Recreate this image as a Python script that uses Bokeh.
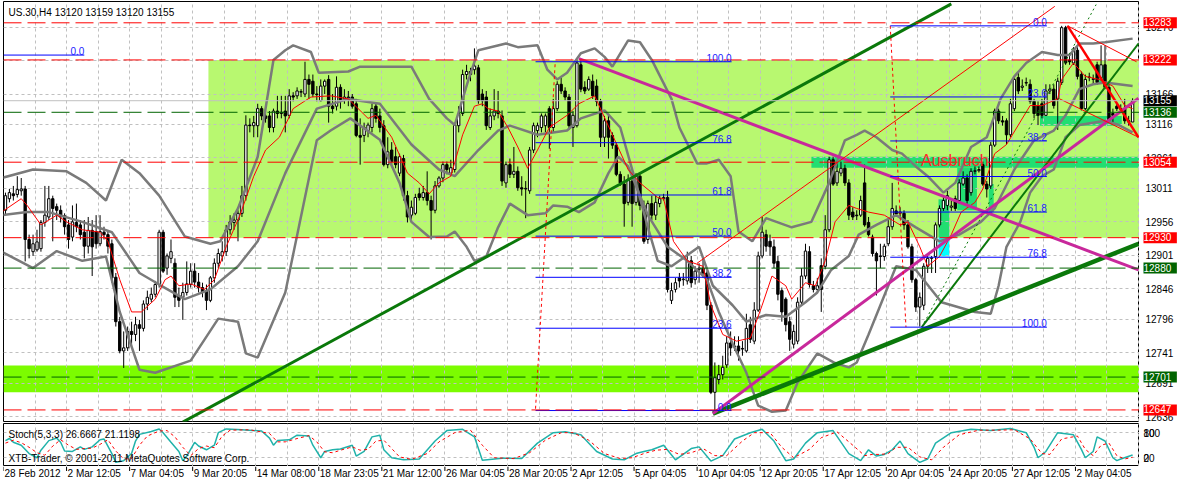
import numpy as np
from bokeh.plotting import figure
from bokeh.models import Range1d, FixedTicker, Span, Label
from bokeh.layouts import column, row
from bokeh.embed import file_html
from bokeh.resources import INLINE

FONT = "Liberation Sans"

# ---------------- US.30 H4 candles (bar 0 = 28 Feb 2012) ----------------
opens = [
    12975, 12994, 13002, 13001, 13007, 13010, 12927, 12907, 12910, 12912,
    12955, 12964, 12994, 12981, 12975, 12966, 12951, 12931, 12955, 12951,
    12939, 12916, 12942, 12940, 12920, 12939, 12935, 12920, 12865, 12792,
    12744, 12749, 12776, 12771, 12787, 12781, 12821, 12829, 12837, 12853,
    12939, 12880, 12896, 12888, 12835, 12832, 12840, 12853, 12875, 12857,
    12848, 12843, 12827, 12864, 12888, 12900, 12907, 12943, 12955, 12959,
    12970, 12999, 13115, 13114, 13114, 13142, 13130, 13130, 13111, 13138,
    13134, 13138, 13131, 13163, 13163, 13169, 13166, 13190, 13187, 13166,
    13155, 13179, 13190, 13146, 13146, 13177, 13158, 13161, 13161, 13150,
    13098, 13098, 13106, 13111, 13146, 13130, 13114, 13050, 13074, 13063,
    13036, 13060, 12999, 12967, 12970, 13002, 12996, 13004, 12991, 12975,
    13015, 13028, 13050, 13036, 13042, 13114, 13134, 13198, 13203, 13206,
    13209, 13166, 13161, 13111, 13130, 13138, 13130, 13020, 13050, 13034,
    13039, 13012, 13010, 13007, 13074, 13106, 13111, 13114, 13142, 13111,
    13142, 13182, 13171, 13161, 13111, 13114, 13214, 13177, 13174, 13187,
    13179, 13154, 13095, 13122, 13098, 13082, 13034, 13018, 12988, 13023,
    12988, 13031, 12983, 12927, 12986, 12967, 12986, 12994, 12996, 12827,
    12845, 12864, 12861, 12859, 12892, 12861, 12878, 12880, 12872, 12819,
    12676, 12697, 12705, 12721, 12757, 12752, 12752, 12748, 12744, 12787,
    12760, 12811, 12900, 12935, 12924, 12915, 12891, 12843, 12829, 12792,
    12755, 12760, 12824, 12867, 12907, 12851, 12845, 12884, 12883, 12943,
    13058, 13020, 13036, 13044, 13020, 12972, 12967, 12967, 13020, 12955,
    12931, 12904, 12900, 12899, 12920, 12948, 12974, 12970, 12970, 12951,
    12915, 12861, 12816, 12819, 12883, 12896, 12899, 12951, 12978, 12983,
    12980, 12994, 12991, 13018, 13028, 13004, 13039, 13040, 13050, 13018,
    13015, 13082, 13138, 13122, 13122, 13099, 13142, 13193, 13177, 13184,
    13182, 13154, 13147, 13150, 13131, 13171, 13174, 13158, 13185, 13275,
    13222, 13217, 13238, 13198, 13142, 13193, 13190, 13214, 13193, 13214,
    13177, 13134, 13146, 13142, 13142, 13122, 13120,
]
highs = [
    13004, 13010, 13015, 13031, 13028, 13015, 12935, 12935, 12943, 12959,
    13015, 13015, 12999, 12986, 12983, 12970, 12959, 12983, 12986, 12959,
    12959, 12964, 12959, 12967, 12967, 12948, 12940, 12927, 12872, 12800,
    12776, 12784, 12792, 12800, 12795, 12827, 12843, 12848, 12859, 12943,
    12943, 12904, 12927, 12896, 12848, 12856, 12891, 12888, 12888, 12872,
    12856, 12853, 12867, 12896, 12912, 12924, 12951, 12967, 12970, 12975,
    13015, 13131, 13126, 13130, 13150, 13146, 13139, 13138, 13142, 13163,
    13163, 13163, 13174, 13169, 13177, 13174, 13219, 13198, 13198, 13179,
    13190, 13190, 13197, 13166, 13195, 13182, 13174, 13171, 13166, 13158,
    13126, 13119, 13119, 13150, 13150, 13142, 13123, 13095, 13087, 13079,
    13068, 13066, 13007, 12991, 13002, 13012, 13015, 13039, 12999, 13023,
    13031, 13055, 13055, 13058, 13119, 13146, 13206, 13214, 13209, 13241,
    13214, 13174, 13171, 13142, 13174, 13171, 13139, 13055, 13060, 13079,
    13047, 13031, 13023, 13079, 13119, 13119, 13134, 13134, 13146, 13158,
    13187, 13193, 13177, 13166, 13138, 13222, 13222, 13187, 13195, 13198,
    13190, 13158, 13130, 13130, 13103, 13087, 13039, 13031, 13034, 13026,
    13036, 13034, 12991, 12991, 12999, 12999, 12999, 13002, 13007, 12856,
    12864, 12872, 12872, 12907, 12900, 12883, 12888, 12896, 12875, 12824,
    12725, 12721, 12736, 12768, 12776, 12768, 12768, 12760, 12805, 12800,
    12824, 12907, 12964, 12943, 12935, 12927, 12900, 12848, 12832, 12800,
    12787, 12832, 12880, 12920, 12916, 12859, 12864, 12896, 12967, 13063,
    13063, 13055, 13055, 13050, 13026, 12980, 12975, 12999, 13050, 12964,
    12935, 12907, 12920, 12920, 12959, 13020, 12983, 12980, 12975, 12959,
    12920, 12864, 12840, 12888, 12900, 12900, 12955, 12983, 12999, 13007,
    12991, 12999, 13026, 13039, 13034, 13044, 13047, 13047, 13055, 13023,
    13087, 13142, 13142, 13130, 13126, 13158, 13195, 13203, 13190, 13193,
    13190, 13158, 13154, 13158, 13182, 13182, 13182, 13193, 13278, 13278,
    13230, 13243, 13243, 13203, 13198, 13201, 13198, 13219, 13246, 13246,
    13182, 13142, 13150, 13149, 13158, 13130, 13159,
]
lows = [
    12967, 12988, 12991, 12996, 12999, 12891, 12896, 12900, 12907, 12907,
    12948, 12959, 12924, 12959, 12955, 12935, 12912, 12924, 12939, 12927,
    12896, 12904, 12867, 12912, 12916, 12927, 12904, 12856, 12784, 12740,
    12716, 12744, 12752, 12760, 12744, 12776, 12811, 12824, 12832, 12848,
    12872, 12869, 12888, 12816, 12816, 12795, 12835, 12848, 12848, 12840,
    12832, 12811, 12824, 12856, 12880, 12891, 12900, 12935, 12943, 12924,
    12964, 12991, 13103, 13095, 13095, 13123, 13119, 13103, 13103, 13126,
    13126, 13103, 13126, 13154, 13158, 13161, 13161, 13158, 13161, 13154,
    13154, 13166, 13119, 13134, 13139, 13142, 13150, 13146, 13142, 13095,
    13050, 13087, 13095, 13103, 13119, 13103, 13047, 13044, 13050, 13044,
    13031, 12991, 12955, 12959, 12967, 12991, 12991, 12983, 12927, 12970,
    13012, 13021, 13034, 13031, 13037, 13103, 13130, 13190, 13187, 13198,
    13150, 13146, 13107, 13107, 13123, 13126, 13015, 13012, 13028, 13028,
    13007, 12999, 12962, 13002, 13069, 13095, 13103, 13103, 13076, 13103,
    13138, 13166, 13155, 13107, 13079, 13111, 13169, 13166, 13171, 13158,
    13146, 13079, 13079, 13060, 13076, 13031, 13015, 12948, 12983, 12948,
    12983, 12975, 12920, 12920, 12959, 12959, 12980, 12991, 12840, 12821,
    12840, 12848, 12851, 12853, 12848, 12853, 12856, 12864, 12811, 12673,
    12646, 12689, 12697, 12716, 12736, 12744, 12728, 12736, 12741, 12757,
    12755, 12808, 12896, 12907, 12900, 12880, 12827, 12792, 12776, 12744,
    12748, 12755, 12821, 12862, 12848, 12840, 12840, 12808, 12878, 12939,
    13015, 13015, 13031, 13015, 12959, 12959, 12959, 12964, 12948, 12932,
    12899, 12835, 12880, 12892, 12916, 12943, 12964, 12962, 12943, 12912,
    12856, 12808, 12784, 12811, 12872, 12872, 12872, 12947, 12974, 12975,
    12974, 12974, 12986, 13015, 12986, 12999, 13034, 13037, 13015, 12996,
    13010, 13079, 13117, 13114, 13083, 13095, 13138, 13166, 13171, 13179,
    13150, 13126, 13115, 13126, 13130, 13166, 13142, 13107, 13181, 13214,
    13214, 13214, 13190, 13139, 13139, 13187, 13182, 13181, 13190, 13174,
    13119, 13119, 13138, 13136, 13117, 13114, 13120,
]
closes = [
    12999, 13004, 12999, 13009, 13010, 12927, 12912, 12920, 12923, 12955,
    12967, 12994, 12978, 12975, 12964, 12948, 12927, 12956, 12948, 12935,
    12916, 12942, 12915, 12920, 12940, 12935, 12916, 12864, 12792, 12744,
    12749, 12776, 12771, 12787, 12781, 12821, 12832, 12837, 12853, 12939,
    12875, 12900, 12907, 12832, 12827, 12840, 12854, 12875, 12857, 12848,
    12840, 12827, 12864, 12888, 12904, 12907, 12943, 12956, 12959, 12970,
    12999, 13115, 13114, 13119, 13142, 13130, 13126, 13111, 13138, 13134,
    13136, 13130, 13163, 13161, 13171, 13170, 13190, 13182, 13166, 13165,
    13179, 13187, 13146, 13142, 13177, 13154, 13161, 13158, 13146, 13098,
    13095, 13111, 13115, 13142, 13126, 13111, 13050, 13071, 13055, 13050,
    13063, 12999, 12964, 12980, 12996, 12996, 13004, 12991, 12975, 13015,
    13028, 13050, 13042, 13045, 13115, 13134, 13198, 13203, 13198, 13212,
    13155, 13155, 13114, 13130, 13138, 13134, 13023, 13050, 13034, 13039,
    13012, 13010, 13011, 13074, 13114, 13114, 13130, 13130, 13111, 13142,
    13182, 13171, 13161, 13114, 13131, 13217, 13174, 13171, 13190, 13163,
    13154, 13095, 13122, 13095, 13082, 13034, 13020, 12986, 13026, 12986,
    13031, 12983, 12924, 12986, 12967, 12988, 12994, 12996, 12845, 12843,
    12856, 12859, 12862, 12892, 12856, 12875, 12880, 12872, 12819, 12676,
    12700, 12705, 12717, 12757, 12749, 12751, 12744, 12747, 12781, 12763,
    12811, 12900, 12939, 12916, 12915, 12888, 12837, 12808, 12787, 12763,
    12776, 12824, 12867, 12908, 12853, 12845, 12851, 12845, 12943, 13058,
    13018, 13039, 13044, 13020, 12967, 12964, 12966, 12991, 12951, 12935,
    12904, 12892, 12899, 12916, 12948, 12978, 12969, 12972, 12951, 12915,
    12861, 12816, 12832, 12883, 12896, 12897, 12951, 12978, 12991, 12999,
    12982, 12978, 13020, 13028, 12991, 13039, 13040, 13042, 13018, 13010,
    13082, 13138, 13122, 13120, 13099, 13150, 13190, 13171, 13179, 13185,
    13154, 13134, 13131, 13131, 13171, 13174, 13147, 13187, 13275, 13217,
    13219, 13238, 13195, 13142, 13190, 13194, 13191, 13185, 13214, 13177,
    13122, 13131, 13142, 13141, 13122, 13120, 13155,
]

# ---------------- indicators (vertices: bar, price) ----------------
bb_up_bar = [-1, 7, 15.5, 20.5, 25.5, 29.5, 34, 39, 45.5, 52, 54.5, 59, 64, 68, 71, 73, 77.5, 79.5, 87, 90, 95, 103,
             107.5, 112, 114, 117.5, 120, 127, 130, 135, 137.5, 140, 142.5, 146, 149.5, 152, 154, 158, 161, 164, 169,
             171, 175.5, 178, 181, 184, 186, 189.5, 193, 199.5, 204.5, 209, 213, 216, 218, 221, 225, 227.5, 231, 234,
             238, 241, 245, 249, 252.5, 256, 259, 263, 267, 270, 272.5, 276, 279, 286]
bb_up = [13028, 13042, 13039, 13020, 12991, 13058, 13036, 12999, 12932, 12920, 12924, 12978, 13063, 13222, 13238,
         13246, 13235, 13201, 13203, 13211, 13211, 13211, 13158, 13126, 13115, 13190, 13238, 13249, 13243, 13246,
         13206, 13190, 13201, 13233, 13241, 13227, 13211, 13254, 13251, 13222, 13158, 13111, 13052, 13052, 13058,
         13031, 12940, 12924, 12962, 12947, 12956, 13020, 13090, 13099, 13106, 13095, 13074, 13068, 13047, 13031,
         13004, 13020, 13079, 13095, 13158, 13195, 13217, 13235, 13230, 13230, 13249, 13249, 13251, 13257]
bb_mid_bar = [-1, 5.5, 11, 19.5, 27, 34, 39, 45.5, 52, 59, 64, 71, 79, 87, 95, 103, 110, 114, 120, 125, 128, 135,
              142.5, 146, 152, 156, 159.5, 163, 165.5, 169, 176, 179.5, 184.5, 188, 193, 198, 203, 206, 209.5, 214,
              216.5, 221, 226, 231, 237, 242, 247.5, 251, 256, 261, 266, 269, 272.5, 276, 279, 286]
bb_mid = [12967, 12972, 12972, 12956, 12939, 12872, 12853, 12829, 12845, 12883, 12924, 13036, 13142, 13158, 13150,
          13083, 13042, 13031, 13074, 13106, 13114, 13099, 13106, 13126, 13139, 13111, 13031, 12947, 12892, 12883,
          12915, 12851, 12819, 12792, 12803, 12800, 12824, 12840, 12877, 12900, 12935, 12951, 12967, 12947, 12924,
          12935, 12956, 12978, 13042, 13090, 13106, 13131, 13174, 13182, 13185, 13179]
bb_lo_bar = [-1, 7, 13, 19.5, 25.5, 29, 34, 38, 47, 54, 59, 61, 64, 71, 79, 82.5, 87.5, 95, 100, 103, 107.5, 112,
             114, 117, 119, 122, 125, 128, 132.5, 137, 139, 142.5, 145.5, 149.5, 153, 155.5, 158, 163, 168, 173, 178,
             181, 184.5, 188, 191, 194.5, 198, 201, 206, 210.5, 214, 216, 219, 222, 226, 231, 237.5, 246, 250, 252,
             254, 257.5, 260, 263, 266, 267.5, 269, 272.5, 279, 282.5, 286]
bb_lo = [12907, 12880, 12908, 12892, 12899, 12808, 12713, 12708, 12728, 12797, 12792, 12740, 12733, 12840, 13090,
         13106, 13126, 13091, 13020, 12956, 12931, 12932, 12940, 12915, 12892, 12899, 12947, 12986, 12967, 12970,
         12983, 12981, 12972, 12988, 13036, 13063, 13047, 12967, 12915, 12892, 12861, 12808, 12756, 12708, 12654,
         12644, 12646, 12692, 12740, 12724, 12717, 12725, 12771, 12819, 12883, 12877, 12824, 12808, 12805, 12851,
         12915, 12956, 13004, 13031, 13042, 13068, 13095, 13115, 13122, 13115, 13103]
ma_bar = [-1, 4, 5.5, 9, 13, 15.5, 19.5, 24, 26, 29, 32, 34.5, 38, 40.5, 42, 44, 47, 50.5, 53, 56, 59.5, 63, 66,
          69.5, 71, 73, 77.5, 82.5, 87, 92, 94, 98, 102, 105, 107.5, 110, 113, 116, 119, 121, 122.5, 125, 127.5,
          130, 132.5, 135, 138, 142.5, 145.5, 149.5, 154, 158, 161, 165.5, 167, 169.5, 173, 177, 179, 182, 185.5,
          189, 192, 194.5, 198, 199.5, 203, 205.5, 208, 210.5, 214, 216, 219, 223, 227, 229, 232, 234, 237, 240,
          242.5, 246, 248, 251, 254, 257, 260, 263, 267, 268, 271, 274, 277.5, 281, 284, 286]
ma = [12972, 12994, 12983, 12951, 12967, 12956, 12943, 12939, 12924, 12861, 12808, 12808, 12829, 12861, 12867,
      12851, 12854, 12845, 12861, 12915, 12967, 13031, 13074, 13095, 13115, 13142, 13161, 13163, 13158, 13126,
      13131, 13095, 13036, 13020, 13002, 13020, 13031, 13099, 13146, 13150, 13142, 13138, 13111, 13079, 13044,
      13074, 13111, 13131, 13150, 13163, 13099, 13042, 13020, 12996, 12994, 12924, 12892, 12883, 12819, 12771,
      12760, 12765, 12819, 12867, 12851, 12829, 12856, 12851, 12892, 12956, 12983, 12978, 12972, 12967, 12951,
      12956, 12915, 12883, 12899, 12935, 12972, 12988, 13010, 13068, 13083, 13115, 13147, 13147, 13158, 13190,
      13217, 13195, 13190, 13179, 13147, 13142]

# Stochastic (5,3,3): %K and %D vertices (bar, value)
stoch_k_bar = [0, 1, 2, 4, 6, 8, 9, 11, 13, 14, 15, 17, 19, 20, 22, 24, 25, 27, 28, 30, 32, 33, 34, 37, 39, 40, 42,
               44, 45, 46, 48, 49, 51, 53, 54, 56, 60, 65, 67, 68, 69, 72, 74, 77, 78, 80, 81, 83, 85, 88, 89, 91,
               93, 95, 96, 98, 101, 105, 109, 112, 116, 119, 121, 126, 131, 135, 139, 142, 146, 150, 154, 157, 160,
               162, 164, 167, 170, 174, 176, 179, 182, 185, 189, 192, 195, 198, 200, 203, 206, 210, 214, 217, 219,
               221, 223, 225, 227, 229, 232, 234, 236, 240, 245, 250, 255, 259, 261, 262, 264, 267, 271, 273, 274,
               276, 277, 279, 281, 282, 283, 286]
stoch_k = [61, 66, 57, 50, 30, 20, 38, 61, 67, 57, 36, 35, 46, 40, 46, 63, 65, 30, 9, 13, 30, 60, 76, 83, 89, 80,
           57, 35, 13, 24, 57, 48, 39, 50, 80, 89, 87, 84, 67, 50, 61, 63, 74, 72, 50, 20, 35, 39, 41, 50, 24, 35,
           70, 74, 39, 20, 15, 17, 60, 85, 88, 70, 14, 19, 18, 55, 80, 82, 75, 35, 17, 15, 30, 35, 39, 50, 15, 42,
           46, 12, 25, 65, 80, 88, 60, 13, 17, 55, 80, 85, 30, 13, 39, 24, 28, 39, 60, 30, 9, 17, 55, 80, 88, 85,
           90, 80, 45, 20, 35, 80, 75, 40, 20, 35, 70, 60, 20, 13, 17, 26.67]
stoch_d_bar = [0, 2, 4, 6, 8, 10, 12, 14, 16, 18, 20, 22, 24, 26, 28, 30, 32, 34, 36, 39, 41, 43, 45, 47, 49, 51,
               53, 55, 57, 62, 67, 69, 71, 74, 77, 79, 81, 83, 85, 88, 90, 92, 94, 96, 98, 100, 103, 107, 110, 114,
               118, 121, 124, 129, 133, 137, 141, 144, 148, 152, 156, 159, 162, 165, 168, 171, 174, 177, 180, 183,
               187, 190, 194, 197, 200, 204, 207, 211, 215, 218, 220, 222, 224, 226, 229, 232, 235, 238, 242, 247,
               252, 256, 260, 263, 265, 268, 272, 274, 276, 278, 280, 282, 284, 286]
stoch_d = [55, 62, 56, 45, 32, 26, 48, 63, 50, 40, 42, 43, 52, 63, 36, 17, 18, 50, 72, 84, 85, 70, 45, 25, 42, 48,
           44, 72, 86, 87, 78, 58, 58, 66, 73, 58, 34, 32, 38, 46, 38, 40, 60, 62, 42, 22, 16, 30, 58, 80, 86, 50,
           20, 18, 32, 62, 80, 80, 62, 30, 18, 20, 30, 38, 40, 28, 32, 42, 25, 25, 60, 80, 80, 45, 20, 40, 68, 82,
           50, 25, 28, 28, 30, 45, 45, 22, 15, 45, 75, 86, 86, 87, 65, 30, 28, 65, 72, 40, 25, 50, 55, 25, 17, 21.12]

# ---------------- axis texts ----------------
price_ticks = [12636, 12691, 12741, 12796, 12846, 12901, 12956, 13011, 13061, 13116, 13166, 13221, 13276]
stoch_ticks = [("100", 80), ("80", 80), ("20", 20), ("0", 20)]
date_labels = ["28 Feb 2012", "2 Mar 12:05", "7 Mar 04:05", "9 Mar 20:05", "14 Mar 08:00", "18 Mar 23:05",
               "21 Mar 12:00", "26 Mar 04:05", "28 Mar 20:05", "2 Apr 12:05", "5 Apr 04:05", "10 Apr 04:05",
               "12 Apr 20:05", "17 Apr 12:05", "20 Apr 04:05", "24 Apr 20:05", "27 Apr 12:05", "2 May 04:05"]

# ---------------- chart objects ----------------
red_levels = [13283, 13222, 13054, 12930, 12647]
green_levels = [13136, 12880, 12701]
bid_price = 13155
level_values = [13283, 13222, 13155, 13136, 13054, 12930, 12880, 12701, 12647]
level_colors = ["#ff0000", "#ff0000", "#000000", "#006400", "#ff0000", "#ff0000", "#006400", "#006400", "#ff0000"]

fib_pcts = [0.0, 23.6, 38.2, 50.0, 61.8, 76.8, 100.0]
fib2_bars = [134.5, 184.25]; fib2_lo, fib2_hi = 12646, 13219
fib3_bars = [224.5, 264.25]; fib3_top, fib3_bot = 13278, 12783
fib1_bars = [-0.5, 20.0]; fib1_price = 13230

# trend lines: start bar, start price, end bar, end price
magenta_x0 = [145.5, 179.5]; magenta_y0 = [13224, 12641]
magenta_x1 = [287.5, 287.5]; magenta_y1 = [12877, 13159]
green_x0 = [45, 179.5, 232.5]; green_y0 = [12627, 12641, 12783]
green_x1 = [240, 287.5, 287.5]; green_y1 = [13314, 12920, 13249]
green_w = [3, 4.5, 2]
gdot_x = [232.5, 276.75]; gdot_y = [12783, 13313]
red_thin_x0 = [175.5, 269.5, 267.5]; red_thin_y0 = [12888, 13278, 13158]
red_thin_x1 = [266.25, 287.0, 287.5]; red_thin_y1 = [13310, 13219, 13095]
red_thick_x = [269.5, 287.5]; red_thick_y = [13278, 13095]
fibline_x0 = [134.5, 224.5]; fibline_y0 = [12649, 13278]
fibline_x1 = [139.5, 228.5]; fibline_y1 = [13219, 12783]

zone_light = (51.5, 288.0, 13222, 12930)
zone_bright = (-0.5, 288.0, 12720, 12676)
zones_mid_l = [204.5, 262.5, 236.75, 241.5, 249.5, 277.5]
zones_mid_r = [288.0, 283.25, 239.5, 246.5, 250.75, 279.25]
zones_mid_t = [13063, 13130, 12993, 13045, 13018, 13212]
zones_mid_b = [13045, 13114, 12931, 12975, 12972, 13185]
zone_cyan = (236.75, 239.5, 12931, 12899)

# ---------------- layout constants ----------------
X0, X1 = -0.5, 287.75
LEFT_W = 1139
RIGHT_W = 39
MAIN_H = 422
STOCH_H = 44
DATE_H = 16


def plain(fig):
    fig.background_fill_color = "white"
    fig.border_fill_color = "white"
    return fig


# ---------------- main price panel ----------------
p = plain(figure(width=LEFT_W, height=MAIN_H, x_range=Range1d(X0, X1), y_range=Range1d(12628, 13318),
                 x_axis_location=None, y_axis_location=None, output_backend="svg", toolbar_location=None,
                 min_border_left=3, min_border_right=0, min_border_top=1, min_border_bottom=1))
p.outline_line_color = "black"

grid_x = [8 * k - 0.5 for k in range(1, 37)]
p.xgrid.ticker = FixedTicker(ticks=grid_x)
p.ygrid.ticker = FixedTicker(ticks=price_ticks)
for g in (p.xgrid[0], p.ygrid[0]):
    g.grid_line_color = "#c0c0c0"
    g.grid_line_dash = "3 3"

# zones (behind the grid)
p.quad(left=[zone_light[0]], right=[zone_light[1]], top=[zone_light[2]], bottom=[zone_light[3]],
       fill_color="#b8f870", line_color=None, level="image")
p.quad(left=[zone_bright[0]], right=[zone_bright[1]], top=[zone_bright[2]], bottom=[zone_bright[3]],
       fill_color="#7cfc00", line_color=None, level="image")
p.quad(left=zones_mid_l, right=zones_mid_r, top=zones_mid_t, bottom=zones_mid_b,
       fill_color="#22de72", line_color=None, level="image")
p.quad(left=[zone_cyan[0]], right=[zone_cyan[1]], top=[zone_cyan[2]], bottom=[zone_cyan[3]],
       fill_color="#00ffff", line_color=None, level="image")

# candles
o = np.array(opens, float); h = np.array(highs, float); l = np.array(lows, float); c = np.array(closes, float)
idx = np.arange(len(c))
p.segment(idx, h, idx, l, line_color="black", line_width=1)
up = c >= o
p.vbar(x=idx[up], top=c[up], bottom=o[up], width=0.6, fill_color="white", line_color="black", line_width=1)
p.vbar(x=idx[~up], top=o[~up], bottom=c[~up], width=0.6, fill_color="black", line_color="black", line_width=1)

# Bollinger bands and moving average
for bx, by in ((bb_up_bar, bb_up), (bb_mid_bar, bb_mid), (bb_lo_bar, bb_lo)):
    p.line(bx, by, line_color="#7a7a7a", line_width=2.5)
p.line(ma_bar, ma, line_color="#ff0000", line_width=1)

# horizontal levels
for v in red_levels:
    p.add_layout(Span(location=v, dimension="width", line_color="#ff0000", line_dash="18 6", line_width=1))
for v in green_levels:
    p.add_layout(Span(location=v, dimension="width", line_color="#006400", line_dash="18 6", line_width=1))
p.add_layout(Span(location=bid_price, dimension="width", line_color="#c0c0c0", line_width=1))

# trend lines
p.segment(green_x0, green_y0, green_x1, green_y1, line_color="#0a780a", line_width=green_w)
p.line(gdot_x, gdot_y, line_color="#0a780a", line_width=1, line_dash="2 3")
p.segment(magenta_x0, magenta_y0, magenta_x1, magenta_y1, line_color="#c8289b", line_width=3)
p.segment(red_thin_x0, red_thin_y0, red_thin_x1, red_thin_y1, line_color="#ff0000", line_width=1)
p.line(red_thick_x, red_thick_y, line_color="#ff0000", line_width=2.5)
p.segment(fibline_x0, fibline_y0, fibline_x1, fibline_y1, line_color="#ff0000", line_width=1, line_dash="3 3")


# Fibonacci levels
def fib_label(xr, y, txt):
    p.add_layout(Label(x=xr, y=y, text=txt, text_align="right", text_baseline="bottom",
                       text_color="#1a1aff", text_font=FONT, text_font_size="10px"))


p.line(fib1_bars, [fib1_price, fib1_price], line_color="#0000ff", line_width=1)
fib_label(fib1_bars[1], fib1_price, "0.0")
for pct in fib_pcts:
    y2 = fib2_lo + pct / 100.0 * (fib2_hi - fib2_lo)
    p.line(fib2_bars, [y2, y2], line_color="#0000ff", line_width=1)
    fib_label(fib2_bars[1], y2, "%.1f" % pct)
    y3 = fib3_top - pct / 100.0 * (fib3_top - fib3_bot)
    p.line(fib3_bars, [y3, y3], line_color="#0000ff", line_width=1)
    fib_label(fib3_bars[1], y3, "%.1f" % pct)

# texts
p.add_layout(Label(x=X0, y=13300, x_offset=5, text="US.30,H4  13120 13159 13120 13155", text_baseline="middle",
                   text_font=FONT, text_font_size="10px", text_color="black"))
p.add_layout(Label(x=232.3, y=13056, text="Ausbruch", text_baseline="alphabetic", text_font=FONT,
                   text_font_size="16px", text_color="#ff2a2a"))

# ---------------- right price scale ----------------
rp = plain(figure(width=RIGHT_W, height=MAIN_H, x_range=Range1d(0, 1), y_range=p.y_range,
                  x_axis_location=None, y_axis_location=None, output_backend="svg", toolbar_location=None,
                  min_border_left=0, min_border_right=0, min_border_top=1, min_border_bottom=1))
rp.outline_line_color = None
rp.grid.visible = False
for v in price_ticks:
    rp.add_layout(Label(x=0, y=v, x_offset=6, text="%d" % v, text_baseline="middle", text_font=FONT,
                        text_font_size="10px", text_color="black"))
for v, col in zip(level_values, level_colors):
    rp.add_layout(Label(x=0, y=v, x_offset=4, text=" %d " % v, text_baseline="middle", text_font=FONT,
                        text_font_size="10px", text_color="white", background_fill_color=col))

# ---------------- stochastic panel ----------------
s = plain(figure(width=LEFT_W, height=STOCH_H, x_range=p.x_range, y_range=Range1d(-1, 102),
                 x_axis_location=None, y_axis_location=None, output_backend="svg", toolbar_location=None,
                 min_border_left=3, min_border_right=0, min_border_top=1, min_border_bottom=0))
s.outline_line_color = "black"
s.xgrid.ticker = FixedTicker(ticks=grid_x)
s.ygrid.ticker = FixedTicker(ticks=[20, 80])
for g in (s.xgrid[0], s.ygrid[0]):
    g.grid_line_color = "#c0c0c0"
    g.grid_line_dash = "3 3"
s.line(stoch_k_bar, stoch_k, line_color="#20b2aa", line_width=1.5)
s.line(stoch_d_bar, stoch_d, line_color="#ff0000", line_width=1, line_dash="3 3")
s.add_layout(Label(x=X0, y=76, x_offset=5, text="Stoch(5,3,3) 26.6667 21.1198", text_baseline="middle",
                   text_font=FONT, text_font_size="10px", text_color="black"))
s.add_layout(Label(x=X0, y=17, x_offset=5, text="XTB-Trader, \u00a9 2001-2011 MetaQuotes Software Corp.",
                   text_baseline="middle", text_font=FONT, text_font_size="10px", text_color="black"))

rs = plain(figure(width=RIGHT_W, height=STOCH_H, x_range=Range1d(0, 1), y_range=s.y_range,
                  x_axis_location=None, y_axis_location=None, output_backend="svg", toolbar_location=None,
                  min_border_left=0, min_border_right=0, min_border_top=1, min_border_bottom=0))
rs.outline_line_color = None
rs.grid.visible = False
for txt, yv in stoch_ticks:
    rs.add_layout(Label(x=0, y=yv, x_offset=4, text=txt, text_baseline="middle", text_font=FONT,
                        text_font_size="10px", text_color="black"))

# ---------------- time scale ----------------
d = plain(figure(width=LEFT_W + RIGHT_W, height=DATE_H, x_range=p.x_range, y_range=Range1d(0, 1),
                 x_axis_location=None, y_axis_location=None, output_backend="svg", toolbar_location=None,
                 min_border_left=3, min_border_right=RIGHT_W, min_border_top=0, min_border_bottom=0))
d.outline_line_color = None
d.grid.visible = False
date_pos = [16 * k - 0.5 for k in range(len(date_labels))]
d.segment(date_pos, [1.0] * len(date_pos), date_pos, [0.72] * len(date_pos), line_color="black", line_width=1)
for pos, txt in zip(date_pos, date_labels):
    d.add_layout(Label(x=pos, y=0.9, x_offset=1, text=txt, text_baseline="top", text_font=FONT,
                       text_font_size="10px", text_color="black"))

layout = column(row(p, rp, spacing=0), row(s, rs, spacing=0), d, spacing=0)
open("out.html", "w", encoding="utf-8").write(file_html(layout, INLINE))
